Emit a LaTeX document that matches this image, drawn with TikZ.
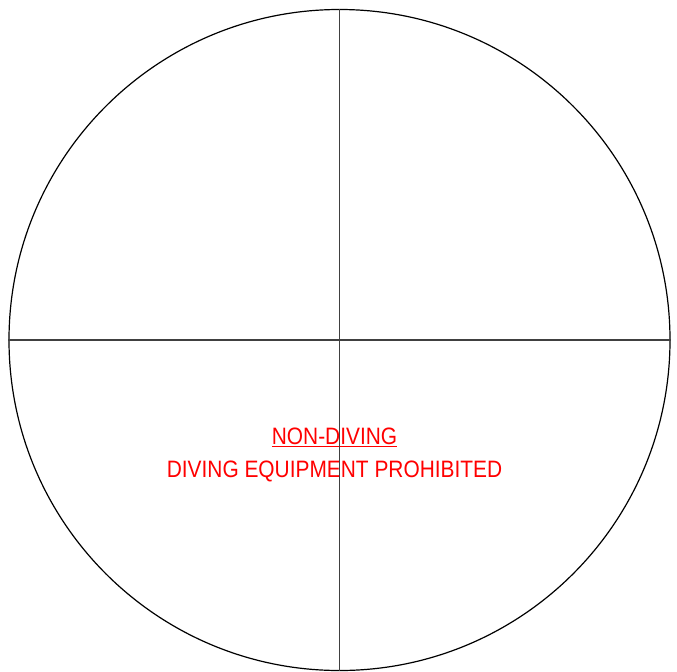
\documentclass[tikz,border=0pt]{standalone}
\usepackage{fontspec}
\setmainfont{Liberation Sans}[FakeStretch=0.88]
\usetikzlibrary{positioning}

\begin{document}
\begin{tikzpicture}[
    x=0.75pt, y=-0.75pt,
    ring/.style={draw=black, circle, line width=0.9pt, minimum size=495.75pt, inner sep=0pt},
    axis/.style={draw=black!75, line width=0.8pt},
    sign/.style={text=red, font=\fontsize{17.8pt}{20pt}\selectfont, inner sep=0pt, anchor=base}
]
\useasboundingbox (0,0) rectangle (677,671);
\node[ring] (dial) at (339.5,340) {};

\node[sign] (zone) at (334.5,444) {\underline{NON-DIVING}};
\node[sign] (rule) at (334.5,477.7) {DIVING EQUIPMENT PROHIBITED};

\draw[axis] (dial.north) -- (dial.south);
\draw[axis] (dial.west) -- (dial.east);
\end{tikzpicture}
\end{document}
